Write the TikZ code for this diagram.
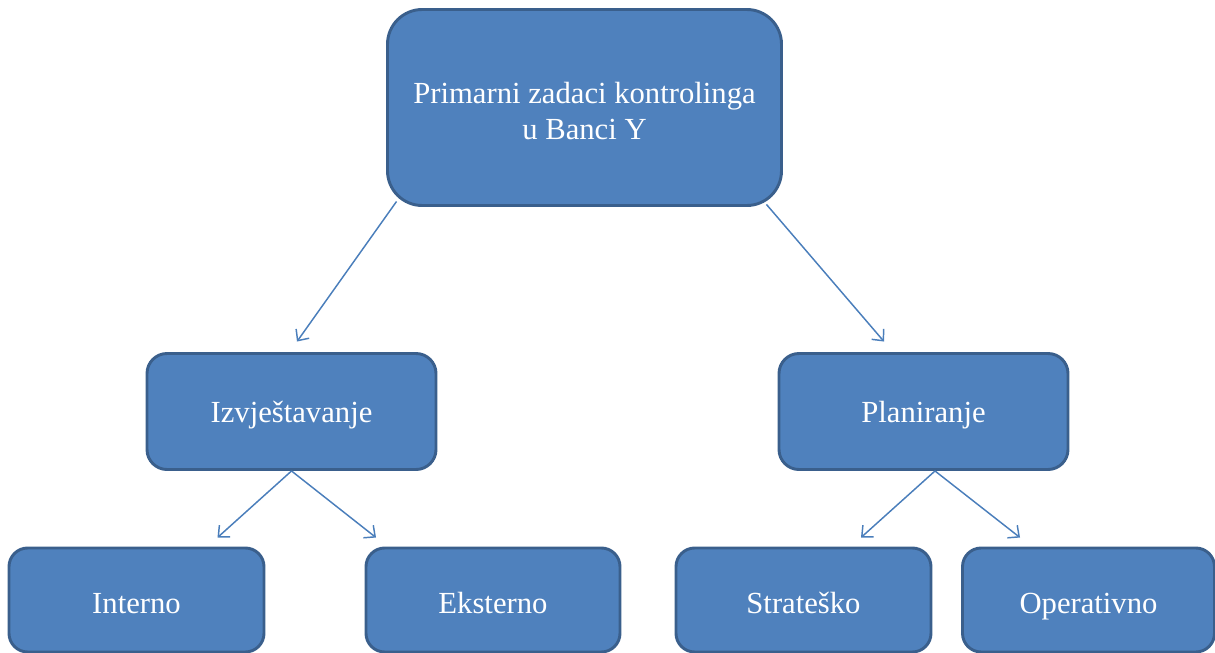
\documentclass[tikz,border=0pt]{standalone}
\usepackage{fontspec}
\setmainfont{Liberation Serif}
\usetikzlibrary{arrows.meta,calc}
\definecolor{boxfill}{HTML}{4F81BD}
\definecolor{boxline}{HTML}{3A5F8C}
\definecolor{arrcol}{HTML}{4A7EBB}
\begin{document}
\begin{tikzpicture}[x=0.75pt,y=-0.75pt,
  box/.style={draw=boxline,fill=boxfill,line width=2.2pt,text=white,
    font=\fontsize{23}{27}\selectfont,align=center,inner sep=0pt},
  arr/.style={draw=arrcol,line width=1.1pt,-{Straight Barb[length=6.5pt,width=12pt,line width=1.1pt]}}]
\useasboundingbox (0,0) rectangle (1215,653);
\node[box,rounded corners=26pt,minimum width=295.5pt,minimum height=147pt,
  text height=47.5pt,text depth=0pt] (top) at (584.5,107.5)
  {Primarni zadaci kontrolinga\\u Banci Y};
\node[box,rounded corners=15pt,minimum width=216.75pt,minimum height=87pt,text height=17.2pt,text depth=0pt] (izv) at (291.5,411.5) {Izvještavanje};
\node[box,rounded corners=15pt,minimum width=216.75pt,minimum height=87pt,text height=17.2pt,text depth=0pt] (plan) at (923.5,411.5) {Planiranje};
\node[box,rounded corners=14pt,minimum width=191.25pt,minimum height=78pt,text height=19.5pt,text depth=0pt] (int) at (136.5,600) {Interno};
\node[box,rounded corners=14pt,minimum width=190.5pt,minimum height=78pt,text height=19.5pt,text depth=0pt] (eks) at (493,600) {Eksterno};
\node[box,rounded corners=14pt,minimum width=191.25pt,minimum height=78pt,text height=19.5pt,text depth=0pt] (str) at (803.5,600) {Strateško};
\node[box,rounded corners=14pt,minimum width=189pt,minimum height=78pt,text height=19.5pt,text depth=0pt] (ope) at (1088.5,600) {Operativno};
\draw[arr] ($(top.south west)+(10.5,-5.5)$) -- ($(izv.north)+(5.5,-10.5)$);
\draw[arr] ($(top.south east)+(-16.5,-2.5)$) -- ($(plan.north)+(-39.5,-10.5)$);
\draw[arr] (izv.south) -- ($(int.north)+(81,-9)$);
\draw[arr] (izv.south) -- ($(eks.north)+(-117,-9)$);
\draw[arr] ($(plan.south)+(11.5,0)$) -- ($(str.north)+(57.5,-9)$);
\draw[arr] ($(plan.south)+(11.5,0)$) -- ($(ope.north)+(-68.5,-9)$);
\end{tikzpicture}
\end{document}
